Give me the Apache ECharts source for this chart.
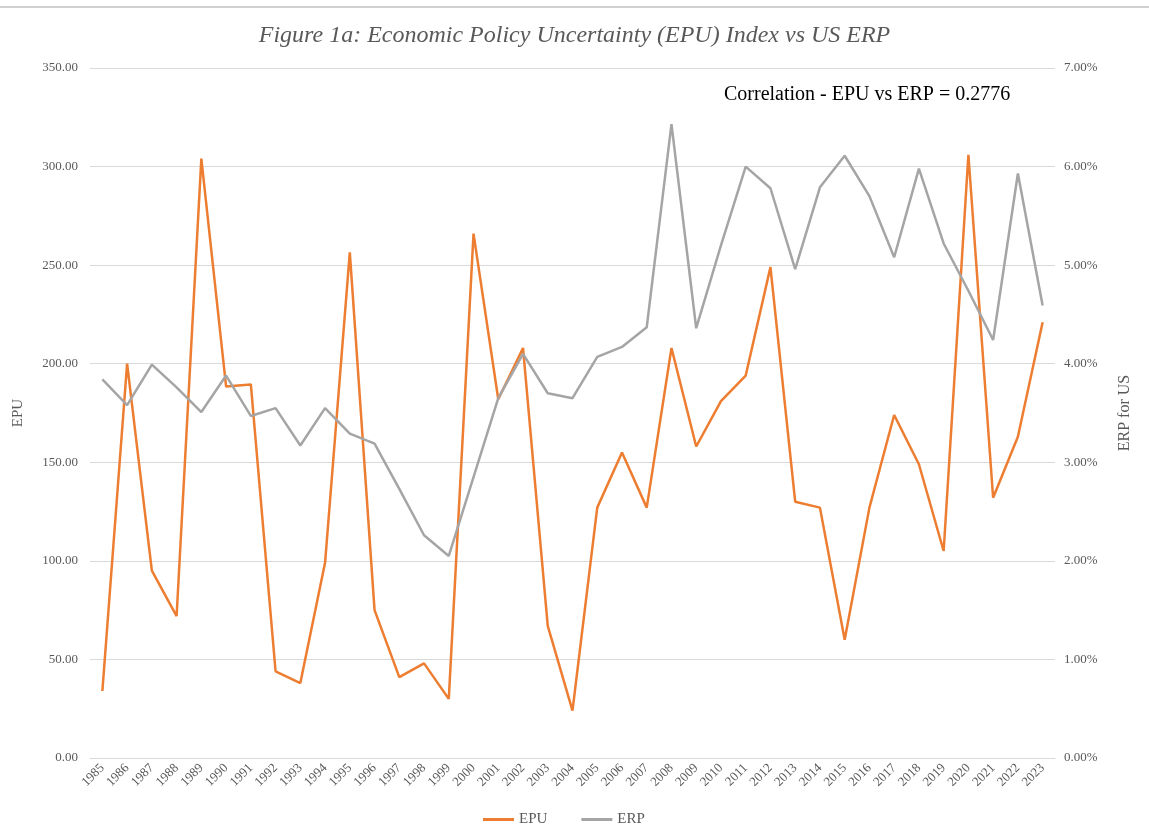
<!DOCTYPE html>
<html>
<head>
<meta charset="utf-8">
<script src="https://cdn.jsdelivr.net/npm/echarts@6/dist/echarts.min.js"></script>
<style>
  html, body { margin: 0; padding: 0; background: #fff; }
  #chart-panel { width: 1149px; height: 835px; }
</style>
</head>
<body>
<div id="chart-panel"></div>
<script>
// 年份
var years = ['1985', '1986', '1987', '1988', '1989', '1990', '1991', '1992', '1993', '1994',
  '1995', '1996', '1997', '1998', '1999', '2000', '2001', '2002', '2003', '2004',
  '2005', '2006', '2007', '2008', '2009', '2010', '2011', '2012', '2013', '2014',
  '2015', '2016', '2017', '2018', '2019', '2020', '2021', '2022', '2023'];

// EPU index (left axis)
var epu = [34, 200, 95, 72, 304, 188.5, 189.5, 44, 38, 99,
  256.5, 75, 41, 48, 30, 266, 182, 208, 67, 24,
  127, 155, 127, 208, 158, 181, 194, 249, 130, 127,
  60, 127, 174, 149, 105, 306, 132, 163, 221];

// US ERP in % (right axis)
var erp = [3.84, 3.58, 3.99, 3.76, 3.51, 3.88, 3.47, 3.55, 3.17, 3.55,
  3.29, 3.19, 2.73, 2.26, 2.05, 2.85, 3.65, 4.10, 3.70, 3.65,
  4.07, 4.17, 4.37, 6.43, 4.36, 5.20, 6.00, 5.78, 4.96, 5.79,
  6.11, 5.70, 5.08, 5.98, 5.22, 4.74, 4.24, 5.93, 4.59];

var corrText = 'Correlation - EPU vs ERP = 0.2776';

let chartPanel = document.getElementById('chart-panel');
let myChart = echarts.init(chartPanel);

let serif = '"Liberation Serif", "DejaVu Serif", serif';
let labelColor = '#595959';

myChart.setOption({
  backgroundColor: '#fff',
  textStyle: { fontFamily: serif },
  title: [{
    text: 'Figure 1a: Economic Policy Uncertainty (EPU) Index vs US ERP',
    left: 'center',
    top: 19,
    textStyle: {
      fontFamily: serif,
      fontStyle: 'italic',
      fontWeight: 'normal',
      fontSize: 24,
      color: labelColor
    }
  }, {
    text: corrText,
    left: 719,
    top: 80,
    textStyle: {
      fontFamily: serif,
      fontWeight: 'normal',
      fontSize: 20,
      color: '#000'
    }
  }],
  legend: {
    bottom: 3,
    left: 478,
    icon: 'rect',
    itemWidth: 31,
    itemHeight: 3,
    itemGap: 34,
    textStyle: { fontFamily: serif, fontSize: 15, color: labelColor },
    data: ['EPU', 'ERP']
  },
  grid: {
    left: 90,
    right: 94,
    top: 68,
    bottom: 77
  },
  xAxis: {
    type: 'category',
    data: years,
    boundaryGap: true,
    axisLine: { lineStyle: { color: '#d9d9d9' } },
    axisTick: { show: false },
    axisLabel: {
      interval: 0,
      rotate: 45,
      margin: 8,
      fontFamily: serif,
      fontSize: 13,
      color: labelColor
    }
  },
  yAxis: [{
    type: 'value',
    name: 'EPU',
    nameLocation: 'middle',
    nameGap: 64,
    nameRotate: 90,
    nameTextStyle: { fontFamily: serif, fontSize: 15, color: labelColor },
    min: 0,
    max: 350,
    interval: 50,
    axisLine: { show: false },
    axisTick: { show: false },
    splitLine: { lineStyle: { color: '#d9d9d9', width: 1 } },
    axisLabel: {
      margin: 12,
      fontFamily: serif,
      fontSize: 13,
      color: labelColor,
      formatter: v => v.toFixed(2)
    }
  }, {
    type: 'value',
    name: 'ERP for US',
    nameLocation: 'middle',
    nameGap: 62,
    nameRotate: 90,
    nameTextStyle: { fontFamily: serif, fontSize: 16, color: labelColor },
    min: 0,
    max: 7,
    interval: 1,
    axisLine: { show: false },
    axisTick: { show: false },
    splitLine: { show: false },
    axisLabel: {
      margin: 9,
      fontFamily: serif,
      fontSize: 13,
      color: labelColor,
      formatter: v => v.toFixed(2) + '%'
    }
  }],
  series: [{
    name: 'EPU',
    type: 'line',
    yAxisIndex: 0,
    data: epu,
    symbol: 'none',
    lineStyle: { color: '#ED7D31', width: 2.5 },
    itemStyle: { color: '#ED7D31' }
  }, {
    name: 'ERP',
    type: 'line',
    yAxisIndex: 1,
    data: erp,
    symbol: 'none',
    lineStyle: { color: '#A5A5A5', width: 2.5 },
    itemStyle: { color: '#A5A5A5' }
  }],
  graphic: [{
    type: 'line',
    shape: { x1: 0, y1: 7, x2: 1149, y2: 7 },
    style: { stroke: '#d0d0d0', lineWidth: 2 }
  }]
});

window.onresize = function () {
  myChart.resize();
}
</script>
</body>
</html>
